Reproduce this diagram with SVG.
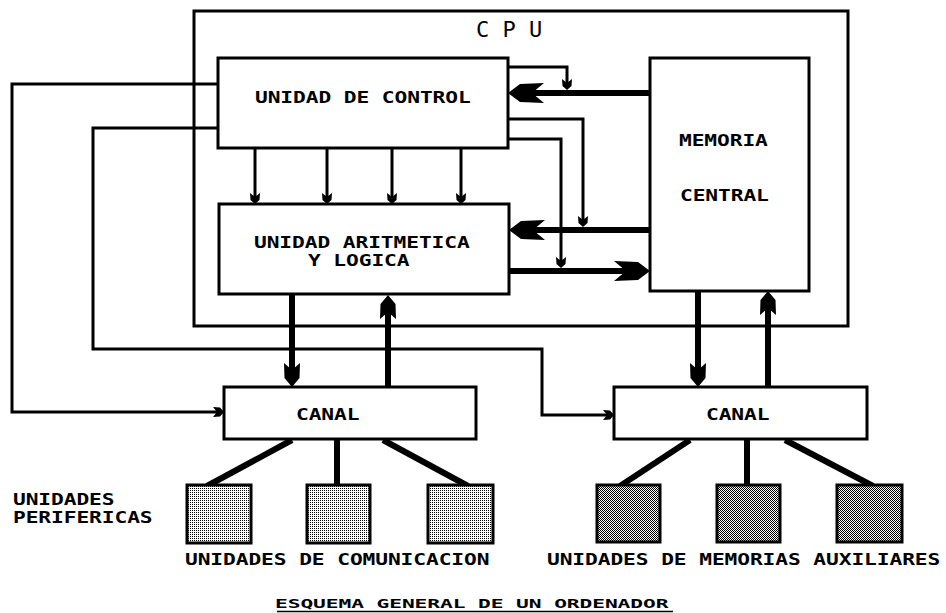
<svg xmlns="http://www.w3.org/2000/svg" width="946" height="613" viewBox="0 0 946 613">
<style>
.box{fill:#fff;stroke:#000;stroke-width:3}
.frame{fill:none;stroke:#000;stroke-width:3}
.thin{fill:none;stroke:#000;stroke-width:3}
.thick{fill:none;stroke:#000;stroke-width:6}
.lbl{font-family:"DejaVu Sans Mono","Liberation Mono",monospace;font-weight:bold;font-size:18px;letter-spacing:-0.08px;fill:#000}
.cpu{font-family:"DejaVu Sans Mono","Liberation Mono",monospace;font-size:22px;fill:#000}
.light{fill:url(#dotL);stroke:#000;stroke-width:3}
.dark{fill:url(#dotD);stroke:#000;stroke-width:3}
</style>
<defs>
<pattern id="dotL" patternUnits="userSpaceOnUse" width="2" height="2">
<rect width="2" height="2" fill="#fff"/><rect width="1" height="1" fill="#000"/>
</pattern>
<pattern id="dotD" patternUnits="userSpaceOnUse" width="2" height="2">
<rect width="2" height="2" fill="#fff"/><rect width="1" height="1" fill="#000"/><rect x="1" y="1" width="1" height="1" fill="#000"/>
</pattern>
<marker id="hBig" markerUnits="userSpaceOnUse" viewBox="-37 -11 38 22" markerWidth="38" markerHeight="22" refX="-12" refY="0" orient="auto">
<path d="M0,0 L-12,-9 L-36,-10 L-24,0 L-36,10 L-12,9 Z" fill="#000"/>
</marker>
<marker id="vBig" markerUnits="userSpaceOnUse" viewBox="-25 -9 26 18" markerWidth="26" markerHeight="18" refX="-12" refY="0" orient="auto">
<path d="M0,0 L-9,-7.5 L-24,-8 L-17,0 L-24,8 L-9,7.5 Z" fill="#000"/>
</marker>
<marker id="sm" markerUnits="userSpaceOnUse" viewBox="-11 -6 12 12" markerWidth="12" markerHeight="12" refX="-3" refY="0" orient="auto">
<path d="M0,0 L-4,-4.5 L-11,-5 L-7,0 L-11,5 L-4,4.5 Z" fill="#000"/>
</marker>
</defs>
<rect width="946" height="613" fill="#fff"/>

<g id="cpu">
<rect class="frame" x="194" y="11" width="654" height="315"/>
<text class="cpu" x="476" y="37">C P U</text>
</g>

<g id="connectors">
<path class="thin" d="M218,84 H12 V412 H221" marker-end="url(#sm)"/>
<path class="thin" d="M218,128 H93 V349 H542 V415 H611" marker-end="url(#sm)"/>
<path class="thin" d="M255,148 V201" marker-end="url(#sm)"/>
<path class="thin" d="M327,148 V201" marker-end="url(#sm)"/>
<path class="thin" d="M392,148 V201" marker-end="url(#sm)"/>
<path class="thin" d="M461,148 V201" marker-end="url(#sm)"/>
<path class="thin" d="M508,67 H567 V87" marker-end="url(#sm)"/>
<path class="thin" d="M508,119 H583 V224" marker-end="url(#sm)"/>
<path class="thin" d="M508,139 H561 V265" marker-end="url(#sm)"/>
<path class="thick" d="M650,93 H520" marker-end="url(#hBig)"/>
<path class="thick" d="M650,230 H521" marker-end="url(#hBig)"/>
<path class="thick" d="M509,271 H638" marker-end="url(#hBig)"/>
<path class="thick" d="M292,294 V375" marker-end="url(#vBig)"/>
<path class="thick" d="M388,387 V307" marker-end="url(#vBig)"/>
<path class="thick" d="M698,291 V375" marker-end="url(#vBig)"/>
<path class="thick" d="M768,387 V303" marker-end="url(#vBig)"/>
<path class="thick" d="M292,440 L207,486"/>
<path class="thick" d="M337,440 V486"/>
<path class="thick" d="M383,440 L468,486"/>
<path class="thick" d="M690,440 L620,486"/>
<path class="thick" d="M747,440 V486"/>
<path class="thick" d="M785,440 L873,486"/>
</g>

<g id="control">
<rect class="box" x="218" y="58" width="290" height="90"/>
<text class="lbl" transform="translate(255,103) scale(1.18,0.9)">UNIDAD DE CONTROL</text>
</g>

<g id="alu">
<rect class="box" x="219" y="204" width="290" height="90"/>
<text class="lbl" transform="translate(254,248) scale(1.18,0.9)">UNIDAD ARITMETICA</text>
<text class="lbl" transform="translate(308,266) scale(1.18,0.9)">Y LOGICA</text>
</g>

<g id="memoria">
<rect class="box" x="650" y="58" width="159" height="233"/>
<text class="lbl" transform="translate(679,146) scale(1.18,0.9)">MEMORIA</text>
<text class="lbl" transform="translate(680,201) scale(1.18,0.9)">CENTRAL</text>
</g>

<g id="canal1">
<rect class="box" x="224" y="387" width="252" height="52"/>
<text class="lbl" transform="translate(296,420) scale(1.18,0.9)">CANAL</text>
</g>

<g id="canal2">
<rect class="box" x="614" y="387" width="253" height="52"/>
<text class="lbl" transform="translate(706,420) scale(1.18,0.9)">CANAL</text>
</g>

<g id="com1"><rect class="light" x="187" y="485" width="64" height="58"/></g>
<g id="com2"><rect class="light" x="307" y="485" width="63" height="58"/></g>
<g id="com3"><rect class="light" x="428" y="485" width="65" height="58"/></g>
<g id="mem1"><rect class="dark" x="597" y="485" width="63" height="57"/></g>
<g id="mem2"><rect class="dark" x="717" y="485" width="63" height="57"/></g>
<g id="mem3"><rect class="dark" x="837" y="485" width="65" height="57"/></g>

<g id="labels">
<text class="lbl" transform="translate(13,505) scale(1.18,0.85)">UNIDADES</text>
<text class="lbl" transform="translate(13,523) scale(1.18,0.85)">PERIFERICAS</text>
<text class="lbl" transform="translate(185,565) scale(1.18,0.9)">UNIDADES DE COMUNICACION</text>
<text class="lbl" transform="translate(547,565) scale(1.18,0.9)">UNIDADES DE MEMORIAS AUXILIARES</text>
<text class="lbl" transform="translate(275,608) scale(1.18,0.68)">ESQUEMA GENERAL DE UN ORDENADOR</text>
<line x1="277" y1="611.5" x2="673" y2="611.5" stroke="#000" stroke-width="1.5"/>
</g>
</svg>
